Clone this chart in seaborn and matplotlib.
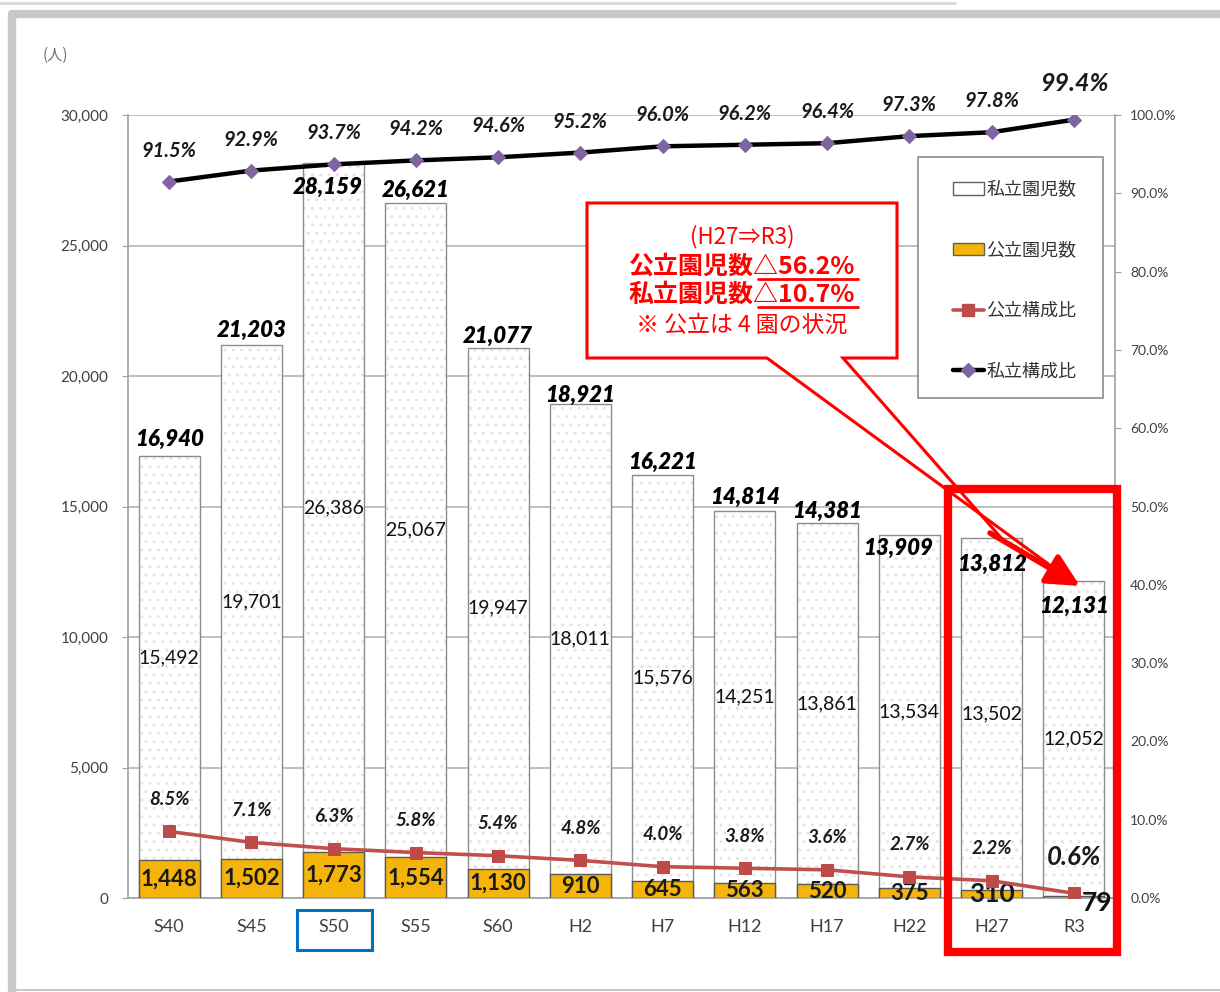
import numpy as np
import pandas as pd
import matplotlib
matplotlib.use('Agg')
import matplotlib.pyplot as plt
import matplotlib.patches as mpatches
from matplotlib.lines import Line2D
import seaborn as sns

# data
years = ['S40', 'S45', 'S50', 'S55', 'S60', 'H2', 'H7', 'H12', 'H17', 'H22', 'H27', 'R3']
total = [16940, 21203, 28159, 26621, 21077, 18921, 16221, 14814, 14381, 13909, 13812, 12131]
private = [15492, 19701, 26386, 25067, 19947, 18011, 15576, 14251, 13861, 13534, 13502, 12052]
public = [1448, 1502, 1773, 1554, 1130, 910, 645, 563, 520, 375, 310, 79]
private_ratio = [91.5, 92.9, 93.7, 94.2, 94.6, 95.2, 96.0, 96.2, 96.4, 97.3, 97.8, 99.4]
public_ratio = [8.5, 7.1, 6.3, 5.8, 5.4, 4.8, 4.0, 3.8, 3.6, 2.7, 2.2, 0.6]

df = pd.DataFrame({'year': years, 'total': total, 'private': private, 'public': public,
                   'private_ratio': private_ratio, 'public_ratio': public_ratio})
df['pos'] = np.arange(len(df))

# label nudges (pixels), style only
total_dy = [-16, -14, 24, -13, -12, -9, -12, -14, -11, 13, 27, 25]
total_dx = [0, 0, -6, 0, 0, 0, 0, 0, 0, -11, 0, 0]

sns.set_style('white')
NUM = ['Lato', 'DejaVu Sans']
JP = ['Noto Sans CJK JP', 'DejaVu Sans']
plt.rcParams['font.family'] = NUM
plt.rcParams['hatch.linewidth'] = 1.0

W, H = 1220, 992
def fx(x):
    return x / W
def fy(y):
    return 1 - y / H

fig = plt.figure(figsize=(W / 100, H / 100), dpi=100)
ax = fig.add_axes([fx(128), fy(898), (1115 - 128) / W, (898 - 115) / H])

# private (total height) bars: dotted white
sns.barplot(data=df, x='year', y='total', color='white', saturation=1, hatch='..',
            edgecolor='#e4e4e4', linewidth=0, width=0.74, errorbar=None, ax=ax, zorder=2)
sns.barplot(data=df, x='year', y='total', color='#8c8c8c', fill=False, linewidth=1.0,
            width=0.74, errorbar=None, ax=ax, zorder=3)
# public bars
sns.barplot(data=df, x='year', y='public', color='#F5B40A', saturation=1,
            edgecolor='#5a5a5a', linewidth=1.0, width=0.74, errorbar=None, ax=ax, zorder=4)

ax.set_xlim(-0.5, len(years) - 0.5)
ax.set_ylim(0, 30000)
ax.set_yticks(np.arange(0, 30001, 5000))
ax.set_yticklabels([f'{v:,}' for v in range(0, 30001, 5000)])
ax.yaxis.grid(True, color='#b4b4b4', linewidth=1.2, zorder=0)
ax.set_axisbelow(True)
ax.set_xlabel('')
ax.set_ylabel('')
ax.set_xticks(np.arange(len(years)))
ax.set_xticklabels(years)
ax.set_xticks(np.arange(-0.5, len(years), 1), minor=True)
ax.tick_params(axis='x', which='major', length=0, pad=15, labelsize=13, labelcolor='#404040')
ax.tick_params(axis='x', which='minor', length=4, color='#a0a0a0', direction='out')
ax.tick_params(axis='y', length=4, color='#a0a0a0', pad=10, labelsize=11, labelcolor='#404040')
for s in ['left', 'bottom', 'right']:
    ax.spines[s].set_color('#a0a0a0')
    ax.spines[s].set_linewidth(1.2)
ax.spines['top'].set_visible(False)

px2pt = 0.72
for i, row in df.iterrows():
    # totals above bars
    ax.annotate(f"{row['total']:,}", (row['pos'], row['total']),
                xytext=(total_dx[i] * px2pt, -total_dy[i] * px2pt), textcoords='offset points',
                ha='center', va='center', fontsize=16, fontweight='heavy', fontstyle='italic',
                color='black', zorder=6)
    # private segment label (centre of segment)
    ax.text(row['pos'], row['public'] + (row['total'] - row['public']) / 2, f"{row['private']:,}",
            ha='center', va='center', fontsize=14, color='#111111', zorder=6)
    # public label
    if row['year'] == 'R3':
        ax.annotate(f"{row['public']:,}", (row['pos'], row['public'] / 2),
                    xytext=(23 * px2pt, -6 * px2pt), textcoords='offset points',
                    ha='center', va='center', fontsize=19, fontweight='bold', color='#111111', zorder=6)
    else:
        size = 19 if row['year'] == 'H27' else 16
        ax.text(row['pos'], row['public'] / 2, f"{row['public']:,}", ha='center', va='center',
                fontsize=size, fontweight='bold', color='#1a1a1a', zorder=6)

# ratio lines on the right axis
ax2 = ax.twinx()
sns.lineplot(data=df, x='pos', y='private_ratio', color='black', linewidth=3.2, marker='D',
             markersize=7, markerfacecolor='#8064A2', markeredgecolor='#8064A2', ax=ax2, legend=False)
sns.lineplot(data=df, x='pos', y='public_ratio', color='#C0504D', linewidth=2.6, marker='s',
             markersize=9, markerfacecolor='#BE4B48', markeredgecolor='#BE4B48', ax=ax2, legend=False)
ax2.set_ylim(0, 100)
ax2.set_xlim(-0.5, len(years) - 0.5)
ax2.set_yticks(np.arange(0, 101, 10))
ax2.set_yticklabels([f'{v:.1f}%' for v in range(0, 101, 10)])
ax2.tick_params(axis='y', length=4, color='#a0a0a0', pad=7, labelsize=10, labelcolor='#404040')
ax2.set_ylabel('')
ax2.set_xlabel('')
for s in ax2.spines.values():
    s.set_visible(False)

for i, row in df.iterrows():
    last = row['year'] == 'R3'
    ax2.annotate(f"{row['private_ratio']:.1f}%", (row['pos'], row['private_ratio']),
                 xytext=(0, (36 if last else 31) * px2pt), textcoords='offset points',
                 ha='center', va='center', fontsize=18 if last else 14.5, fontstyle='italic',
                 fontweight='bold', color='#1a1a1a')
    ax2.annotate(f"{row['public_ratio']:.1f}%", (row['pos'], row['public_ratio']),
                 xytext=(0, (36 if last else 32) * px2pt), textcoords='offset points',
                 ha='center', va='center', fontsize=18.5 if last else 13.5, fontstyle='italic',
                 fontweight='bold', color='#1a1a1a')

# unit label
fig.text(fx(55), fy(55), '(人)', fontsize=11, color='#707070', ha='center', va='center', family=JP)

# legend with box
fig.patches.append(mpatches.Rectangle((fx(918), fy(398)), (1103 - 918) / W, (398 - 157) / H,
                                      transform=fig.transFigure, facecolor='white',
                                      edgecolor='#8c8c8c', linewidth=1.2, zorder=1))
handles = [mpatches.Patch(facecolor='white', edgecolor='#606060', linewidth=1.0),
           mpatches.Patch(facecolor='#F5B40A', edgecolor='#606060', linewidth=1.0),
           Line2D([], [], color='#C0504D', linewidth=2.6, marker='s', markersize=9,
                  markerfacecolor='#BE4B48', markeredgecolor='#BE4B48'),
           Line2D([], [], color='black', linewidth=3.2, marker='D', markersize=7,
                  markerfacecolor='#8064A2', markeredgecolor='#8064A2')]
labels = ['私立園児数', '公立園児数', '公立構成比', '私立構成比']
fig.legend(handles, labels, loc='upper left', bbox_to_anchor=(fx(944), fy(172)),
           frameon=False, prop={'family': JP, 'size': 13}, labelspacing=2.35,
           handlelength=1.7, handleheight=0.7, handletextpad=0.15, borderpad=0,
           labelcolor='#333333')

# callout box
red = '#FF0000'
fig.patches.append(mpatches.Rectangle((fx(587), fy(358)), 310 / W, 155 / H,
                                      transform=fig.transFigure, facecolor='white',
                                      edgecolor='none', zorder=1))
callout = [(767, 358), (587, 358), (587, 203), (897, 203), (897, 358), (843, 358), (1003, 540)]
fig.patches.append(mpatches.Polygon([(fx(x), fy(y)) for x, y in callout], closed=False,
                                    transform=fig.transFigure, fill=False, edgecolor=red,
                                    linewidth=2.2, joinstyle='miter', zorder=2))
fig.add_artist(Line2D([fx(767), fx(1062)], [fy(358), fy(574)], color=red, linewidth=2.2))
fig.patches.append(mpatches.FancyArrowPatch((fx(990), fy(533)), (fx(1080), fy(586)),
                                            transform=fig.transFigure,
                                            arrowstyle='-|>,head_length=0.9,head_width=0.45',
                                            mutation_scale=22, shrinkA=0, shrinkB=0,
                                            color=red, linewidth=4, zorder=2))
fig.text(fx(742), fy(237), '(H27⇒R3)', color=red, fontsize=16, ha='center', va='center', family=JP)
fig.text(fx(742), fy(267), '公立園児数△56.2%', color=red, fontsize=18, fontweight='bold',
         ha='center', va='center', family=JP)
fig.text(fx(742), fy(295), '私立園児数△10.7%', color=red, fontsize=18, fontweight='bold',
         ha='center', va='center', family=JP)
fig.text(fx(742), fy(325), '※ 公立は 4 園の状況', color=red, fontsize=16.5, ha='center',
         va='center', family=JP)
for y in [279, 307]:
    fig.add_artist(Line2D([fx(758), fx(858)], [fy(y), fy(y)], color=red, linewidth=2))

# highlight frames
fig.patches.append(mpatches.Rectangle((fx(947.5), fy(952)), (1117 - 947.5) / W, (952 - 489) / H,
                                      transform=fig.transFigure, fill=False, edgecolor=red,
                                      linewidth=6, zorder=3))
fig.patches.append(mpatches.Rectangle((fx(296.5), fy(949.5)), 75 / W, 40 / H,
                                      transform=fig.transFigure, fill=False, edgecolor='#0070C0',
                                      linewidth=2.2, zorder=3))

# outer frame of the slide
fig.add_artist(Line2D([fx(12), fx(1220)], [fy(14), fy(14)], color='#c8c8c8', linewidth=6))
fig.add_artist(Line2D([fx(12), fx(12)], [fy(14), fy(990)], color='#c8c8c8', linewidth=6))
fig.add_artist(Line2D([fx(12), fx(1220)], [fy(990), fy(990)], color='#c8c8c8', linewidth=1.5))
fig.add_artist(Line2D([0, fx(955)], [fy(3), fy(3)], color='#d8d8d8', linewidth=2))

fig.savefig('out.png', dpi=100)
